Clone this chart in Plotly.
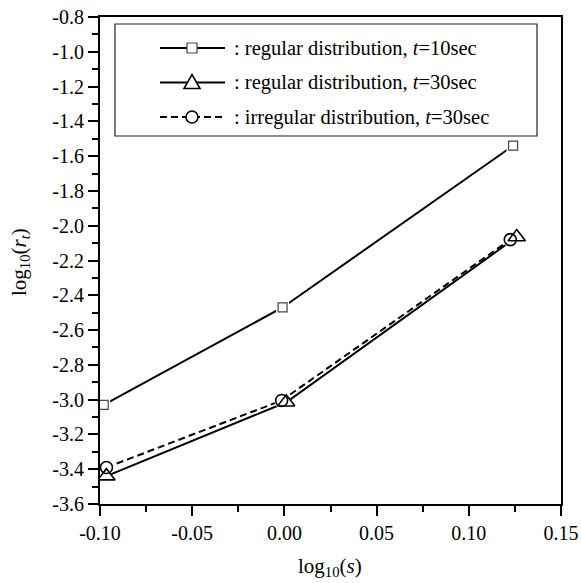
import plotly.graph_objects as go

# ---- data ----
sq_x = [-0.098, -0.001, 0.124]
sq_y = [-3.03, -2.47, -1.54]
tri_x = [-0.0965, 0.001, 0.126]
tri_y = [-3.44, -3.015, -2.065]
cir_x = [-0.0965, -0.0015, 0.1225]
cir_y = [-3.39, -3.005, -2.08]

names = [": regular distribution, <i>t</i>=10sec",
         ": regular distribution, <i>t</i>=30sec",
         ": irregular distribution, <i>t</i>=30sec"]

xticks = [-0.10, -0.05, 0.00, 0.05, 0.10, 0.15]
xticktext = ["-0.10", "-0.05", "0.00", "0.05", "0.10", "0.15"]
yticks = [-3.6, -3.4, -3.2, -3.0, -2.8, -2.6, -2.4, -2.2, -2.0, -1.8, -1.6, -1.4, -1.2, -1.0, -0.8]
yticktext = ["%.1f" % v for v in yticks]

FONT = "Liberation Serif, Times New Roman, serif"
W, H = 581, 583
L, R, T, B = 100, 20, 17, 79
PW, PH = W - L - R, H - T - B

def px(x):
    return (x - L) / PW

def py(y):
    return (H - B - y) / PH

series = [
    dict(x=sq_x, y=sq_y, sym="square-open", size=9, gap=13, dash="solid", lw=1.2, col="#444"),
    dict(x=tri_x, y=tri_y, sym="triangle-up-open", size=15, gap=17, dash="solid", lw=1.6, col="black"),
    dict(x=cir_x, y=cir_y, sym="circle-open", size=12, gap=15, dash="7px,4px", lw=1.6, col="black"),
]

fig = go.Figure()
for s in series:
    fig.add_trace(go.Scatter(x=s["x"], y=s["y"], mode="lines",
                             line=dict(color="black", width=2, dash=s["dash"]),
                             showlegend=False, hoverinfo="skip"))
for s in series:
    fig.add_trace(go.Scatter(x=s["x"], y=s["y"], mode="markers",
                             marker=dict(symbol=s["sym"].replace("-open", ""), size=s["gap"],
                                         color="white", line=dict(width=0)),
                             showlegend=False, hoverinfo="skip"))
for s in series:
    fig.add_trace(go.Scatter(x=s["x"], y=s["y"], mode="markers",
                             marker=dict(symbol=s["sym"], size=s["size"], color=s["col"],
                                         line=dict(width=s["lw"], color=s["col"])),
                             showlegend=False, hoverinfo="skip"))

# ---- custom legend ----
shapes = [dict(type="rect", xref="paper", yref="paper",
               x0=px(115), x1=px(537), y0=py(136), y1=py(24),
               line=dict(color="#222", width=1.2), fillcolor="white", layer="above")]
annotations = []
rows = [48, 82.5, 117]
for i, (s, ry) in enumerate(zip(series, rows)):
    shapes.append(dict(type="line", xref="paper", yref="paper",
                       x0=px(160), x1=px(225), y0=py(ry), y1=py(ry),
                       line=dict(color="black", width=2, dash=s["dash"]), layer="above"))
    cx = 192
    if i == 0:
        shapes.append(dict(type="rect", xref="paper", yref="paper",
                           x0=px(cx - 5), x1=px(cx + 5), y0=py(ry + 5), y1=py(ry - 5),
                           line=dict(color="#444", width=1.2), fillcolor="white", layer="above"))
    elif i == 1:
        path = "M %f %f L %f %f L %f %f Z" % (px(cx - 8), py(ry + 6), px(cx + 8), py(ry + 6), px(cx), py(ry - 8))
        shapes.append(dict(type="path", xref="paper", yref="paper", path=path,
                           line=dict(color="black", width=1.6), fillcolor="white", layer="above"))
    else:
        shapes.append(dict(type="circle", xref="paper", yref="paper",
                           x0=px(cx - 6), x1=px(cx + 6), y0=py(ry + 6), y1=py(ry - 6),
                           line=dict(color="black", width=1.6), fillcolor="white", layer="above"))
    annotations.append(dict(xref="paper", yref="paper", x=px(232), y=py(ry),
                            xanchor="left", yanchor="middle", showarrow=False,
                            text=names[i], font=dict(family=FONT, size=20.5, color="black")))

# axis titles
annotations.append(dict(xref="paper", yref="paper", x=px(330), y=py(567),
                        xanchor="center", yanchor="middle", showarrow=False,
                        text="log<sub>10</sub>(<i>s</i>)",
                        font=dict(family=FONT, size=21, color="black")))
annotations.append(dict(xref="paper", yref="paper", x=px(20), y=py(262),
                        xanchor="center", yanchor="middle", showarrow=False, textangle=-90,
                        text="log<sub>10</sub>(<i>r<sub>t</sub></i>)",
                        font=dict(family=FONT, size=21, color="black")))

axis_common = dict(showgrid=False, zeroline=False, showline=True, linecolor="black",
                   linewidth=2, mirror=True, ticks="outside", ticklen=10, tickwidth=2,
                   tickcolor="black", tickfont=dict(family=FONT, size=20, color="black"),
                   automargin=False)

fig.update_layout(
    width=W, height=H, margin=dict(l=L, r=R, t=T, b=B),
    paper_bgcolor="white", plot_bgcolor="white",
    shapes=shapes, annotations=annotations,
    xaxis=dict(range=[-0.10, 0.15], tickvals=xticks, ticktext=xticktext,
               minor=dict(ticks="outside", ticklen=6, tickwidth=2, tickcolor="black", dtick=0.025),
               **axis_common),
    yaxis=dict(range=[-3.6, -0.8], tickvals=yticks, ticktext=yticktext,
               minor=dict(ticks="outside", ticklen=6, tickwidth=2, tickcolor="black", dtick=0.1),
               **axis_common),
)

fig.write_html("out.html")
